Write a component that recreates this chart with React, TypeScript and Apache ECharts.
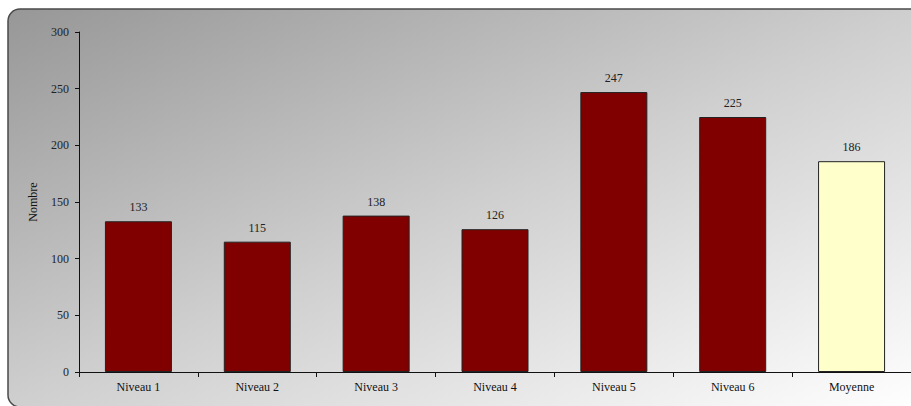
import React, { useEffect, useRef } from "react";
import * as echarts from "echarts";

const categories = ["Niveau 1", "Niveau 2", "Niveau 3", "Niveau 4", "Niveau 5", "Niveau 6", "Moyenne"];
const values = [133, 115, 138, 126, 247, 225, 186];
const barColors = ["#800000", "#800000", "#800000", "#800000", "#800000", "#800000", "#ffffcc"];
const yTicks = { min: 0, max: 300, interval: 50 };
const yName = "Nombre";

const FONT = "'Liberation Serif', 'Times New Roman', serif";

export default function App() {
  const ref = useRef<HTMLDivElement>(null);
  useEffect(() => {
    document.body.style.margin = "0";
    const chart = echarts.init(ref.current!, null, { renderer: "svg" });
    chart.setOption({
      animation: false,
      graphic: [
        {
          type: "rect",
          z: -10,
          shape: { x: 8, y: 9, width: 920, height: 398, r: 12 },
          style: {
            fill: new echarts.graphic.LinearGradient(0, 0, 1, 1, [
              { offset: 0, color: "#979797" },
              { offset: 0.5, color: "#cfcfcf" },
              { offset: 1, color: "#ffffff" },
            ]),
            stroke: "#4a4a4a",
            lineWidth: 1.5,
          },
        },
      ],
      grid: { left: 79, top: 32, height: 340, width: 833 },
      xAxis: {
        type: "category",
        data: categories,
        axisLine: { lineStyle: { color: "#111", width: 1 } },
        axisTick: { show: true, length: 5, lineStyle: { color: "#111" } },
        axisLabel: { color: "#111", fontFamily: FONT, fontSize: 12, margin: 9 },
      },
      yAxis: {
        type: "value",
        min: yTicks.min,
        max: yTicks.max,
        interval: yTicks.interval,
        name: yName,
        nameLocation: "middle",
        nameRotate: 90,
        nameGap: 40,
        nameTextStyle: { color: "#111", fontFamily: FONT, fontSize: 12 },
        axisLine: { show: true, lineStyle: { color: "#111", width: 1 } },
        axisTick: { show: true, length: 4, lineStyle: { color: "#111" } },
        axisLabel: { color: "#222", fontFamily: FONT, fontSize: 12, margin: 10 },
        splitLine: { show: false },
      },
      series: [
        {
          type: "bar",
          barWidth: 67,
          data: values.map((v, i) => ({
            value: v,
            itemStyle: { color: barColors[i], borderColor: "#222", borderWidth: 1 },
          })),
          label: {
            show: true,
            position: "top",
            distance: 8,
            color: "#222",
            fontFamily: FONT,
            fontSize: 12,
          },
        },
      ],
    });
    return () => chart.dispose();
  }, []);
  return <div ref={ref} style={{ width: 911, height: 406 }} />;
}
